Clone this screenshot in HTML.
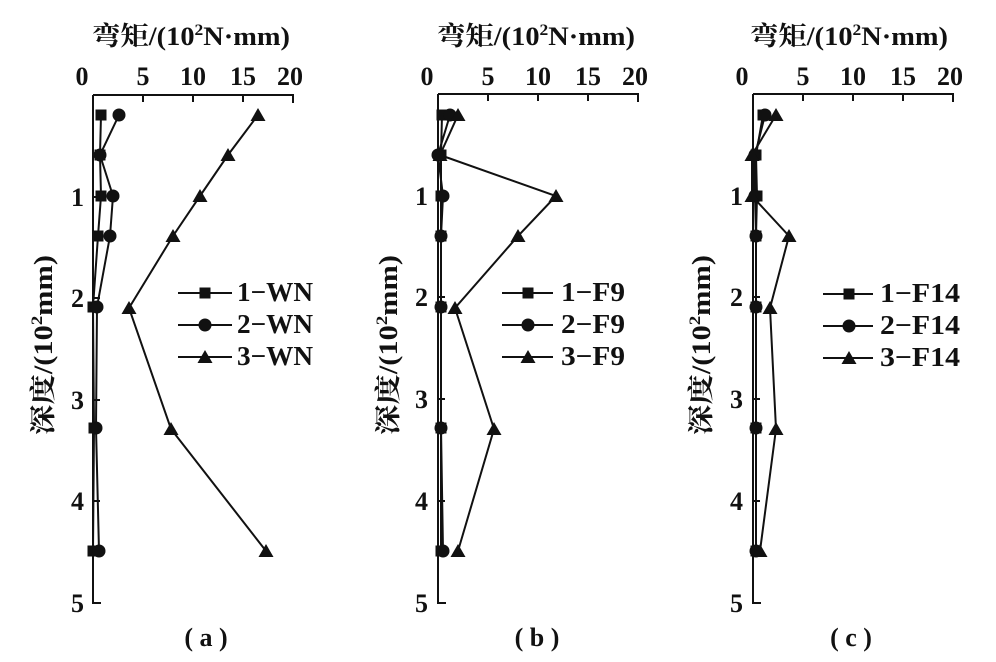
<!DOCTYPE html>
<html><head><meta charset="utf-8"><style>
html,body{margin:0;padding:0;background:#fff;}
svg{display:block;}
text{font-family:"Liberation Serif","Noto Serif CJK SC",serif;fill:#111;}
</style></head><body>
<svg width="996" height="662" viewBox="0 0 996 662" xmlns="http://www.w3.org/2000/svg">
<defs>
<g id="sq"><rect x="-5.5" y="-5.5" width="11" height="11" fill="#111"/></g>
<g id="ci"><circle r="6.5" fill="#111"/></g>
<g id="tr"><polygon points="0,-7 7.5,6 -7.5,6" fill="#111"/></g>
</defs>

<g stroke="#111" stroke-width="2" fill="none">
<path d="M93,95 H293 V103 M93,95 V603 H101 M143,95 v7 M193,95 v7 M243,95 v7 M93,197 h7 M93,298 h7 M93,400 h7 M93,501 h7"/>
<path d="M438,94 H638 V102 M438,94 V603 H446 M488,94 v7 M538,94 v7 M588,94 v7 M438,196 h7 M438,297 h7 M438,399 h7 M438,501 h7"/>
<path d="M753,94 H953 V102 M753,94 V603 H761 M803,94 v7 M853,94 v7 M903,94 v7 M753,196 h7 M753,297 h7 M753,399 h7 M753,501 h7"/>
</g>

<g font-size="26" font-weight="bold">
<text x="92" y="45" textLength="198" lengthAdjust="spacingAndGlyphs">弯矩/(10<tspan font-size="16" dy="-10">2</tspan><tspan dy="10">N·mm)</tspan></text>
<text x="437" y="45" textLength="198" lengthAdjust="spacingAndGlyphs">弯矩/(10<tspan font-size="16" dy="-10">2</tspan><tspan dy="10">N·mm)</tspan></text>
<text x="750" y="45" textLength="198" lengthAdjust="spacingAndGlyphs">弯矩/(10<tspan font-size="16" dy="-10">2</tspan><tspan dy="10">N·mm)</tspan></text>
</g>

<g font-size="26" font-weight="bold" text-anchor="middle">
<text x="82" y="85">0</text><text x="143" y="85">5</text><text x="193" y="85">10</text><text x="243" y="85">15</text><text x="290" y="85">20</text>
<text x="427" y="85">0</text><text x="488" y="85">5</text><text x="538" y="85">10</text><text x="588" y="85">15</text><text x="635" y="85">20</text>
<text x="742" y="85">0</text><text x="803" y="85">5</text><text x="853" y="85">10</text><text x="903" y="85">15</text><text x="950" y="85">20</text>
</g>
<g font-size="26" font-weight="bold" text-anchor="end">
<text x="84" y="206">1</text><text x="84" y="307">2</text><text x="84" y="409">3</text><text x="84" y="510">4</text><text x="84" y="612">5</text>
<text x="428" y="205">1</text><text x="428" y="306">2</text><text x="428" y="408">3</text><text x="428" y="510">4</text><text x="428" y="612">5</text>
<text x="743" y="205">1</text><text x="743" y="306">2</text><text x="743" y="408">3</text><text x="743" y="510">4</text><text x="743" y="612">5</text>
</g>
<g font-size="26" font-weight="bold">
<text transform="translate(52,435) rotate(-90)" textLength="180" lengthAdjust="spacingAndGlyphs">深度/(10<tspan font-size="16" dy="-10">2</tspan><tspan dy="10">mm)</tspan></text>
<text transform="translate(397,435) rotate(-90)" textLength="180" lengthAdjust="spacingAndGlyphs">深度/(10<tspan font-size="16" dy="-10">2</tspan><tspan dy="10">mm)</tspan></text>
<text transform="translate(710,435) rotate(-90)" textLength="180" lengthAdjust="spacingAndGlyphs">深度/(10<tspan font-size="16" dy="-10">2</tspan><tspan dy="10">mm)</tspan></text>
</g>
<g font-size="26" font-weight="bold" text-anchor="middle">
<text x="206" y="646" xml:space="preserve">( a )</text>
<text x="537" y="646" xml:space="preserve">( b )</text>
<text x="851" y="646" xml:space="preserve">( c )</text>
</g>

<g stroke="#111" stroke-width="2" fill="none">
<polyline points="101,115 100,155 101,196 98,236 93,307 94,428 93,551"/>
<polyline points="119,115 100,155 113,196 110,236 97,307 96,428 99,551"/>
<polyline points="258,115 228,155 200,196 173,236 129,308 171,429 266,551"/>

<polyline points="442,115 441,155 441,196 441,236 441,307 441,428 441,551"/>
<polyline points="450,115 438,155 443,196 441,236 441,307 441,428 443,551"/>
<polyline points="458,115 440,155 556,196 518,236 455,308 494,429 458,551"/>

<polyline points="763,115 756,155 757,196 756,236 756,307 756,428 756,551"/>
<polyline points="765,115 755,155 755,196 756,236 756,307 756,428 756,551"/>
<polyline points="776,115 752,155 752,196 789,236 770,308 776,429 760,551"/>

<path d="M178,293 H232 M178,325 H232 M178,357 H232"/>
<path d="M502,293 H553 M502,325 H553 M502,357 H553"/>
<path d="M823,294 H873 M823,326 H873 M823,358 H873"/>
</g>

<g>
<use href="#sq" x="101" y="115"/><use href="#sq" x="100" y="155"/><use href="#sq" x="101" y="196"/><use href="#sq" x="98" y="236"/><use href="#sq" x="93" y="307"/><use href="#sq" x="94" y="428"/><use href="#sq" x="93" y="551"/>
<use href="#ci" x="119" y="115"/><use href="#ci" x="100" y="155"/><use href="#ci" x="113" y="196"/><use href="#ci" x="110" y="236"/><use href="#ci" x="97" y="307"/><use href="#ci" x="96" y="428"/><use href="#ci" x="99" y="551"/>
<use href="#tr" x="258" y="115"/><use href="#tr" x="228" y="155"/><use href="#tr" x="200" y="196"/><use href="#tr" x="173" y="236"/><use href="#tr" x="129" y="308"/><use href="#tr" x="171" y="429"/><use href="#tr" x="266" y="551"/>

<use href="#sq" x="442" y="115"/><use href="#sq" x="441" y="155"/><use href="#sq" x="441" y="196"/><use href="#sq" x="441" y="236"/><use href="#sq" x="441" y="307"/><use href="#sq" x="441" y="428"/><use href="#sq" x="441" y="551"/>
<use href="#ci" x="450" y="115"/><use href="#ci" x="438" y="155"/><use href="#ci" x="443" y="196"/><use href="#ci" x="441" y="236"/><use href="#ci" x="441" y="307"/><use href="#ci" x="441" y="428"/><use href="#ci" x="443" y="551"/>
<use href="#tr" x="458" y="115"/><use href="#tr" x="440" y="155"/><use href="#tr" x="556" y="196"/><use href="#tr" x="518" y="236"/><use href="#tr" x="455" y="308"/><use href="#tr" x="494" y="429"/><use href="#tr" x="458" y="551"/>

<use href="#sq" x="763" y="115"/><use href="#sq" x="756" y="155"/><use href="#sq" x="757" y="196"/><use href="#sq" x="756" y="236"/><use href="#sq" x="756" y="307"/><use href="#sq" x="756" y="428"/><use href="#sq" x="756" y="551"/>
<use href="#ci" x="765" y="115"/><use href="#ci" x="755" y="155"/><use href="#ci" x="755" y="196"/><use href="#ci" x="756" y="236"/><use href="#ci" x="756" y="307"/><use href="#ci" x="756" y="428"/><use href="#ci" x="756" y="551"/>
<use href="#tr" x="776" y="115"/><use href="#tr" x="752" y="155"/><use href="#tr" x="752" y="196"/><use href="#tr" x="789" y="236"/><use href="#tr" x="770" y="308"/><use href="#tr" x="776" y="429"/><use href="#tr" x="760" y="551"/>

<use href="#sq" x="205" y="293"/><use href="#ci" x="205" y="325"/><use href="#tr" x="205" y="357"/>
<use href="#sq" x="528" y="293"/><use href="#ci" x="528" y="325"/><use href="#tr" x="528" y="357"/>
<use href="#sq" x="849" y="294"/><use href="#ci" x="849" y="326"/><use href="#tr" x="849" y="358"/>
</g>

<g font-size="27" font-weight="bold">
<text x="237" y="301" textLength="76" lengthAdjust="spacingAndGlyphs">1−WN</text><text x="237" y="333" textLength="76" lengthAdjust="spacingAndGlyphs">2−WN</text><text x="237" y="365" textLength="76" lengthAdjust="spacingAndGlyphs">3−WN</text>
<text x="561" y="301" textLength="64" lengthAdjust="spacingAndGlyphs">1−F9</text><text x="561" y="333" textLength="64" lengthAdjust="spacingAndGlyphs">2−F9</text><text x="561" y="365" textLength="64" lengthAdjust="spacingAndGlyphs">3−F9</text>
<text x="880" y="302" textLength="80" lengthAdjust="spacingAndGlyphs">1−F14</text><text x="880" y="334" textLength="80" lengthAdjust="spacingAndGlyphs">2−F14</text><text x="880" y="366" textLength="80" lengthAdjust="spacingAndGlyphs">3−F14</text>
</g>
</svg>
</body></html>
